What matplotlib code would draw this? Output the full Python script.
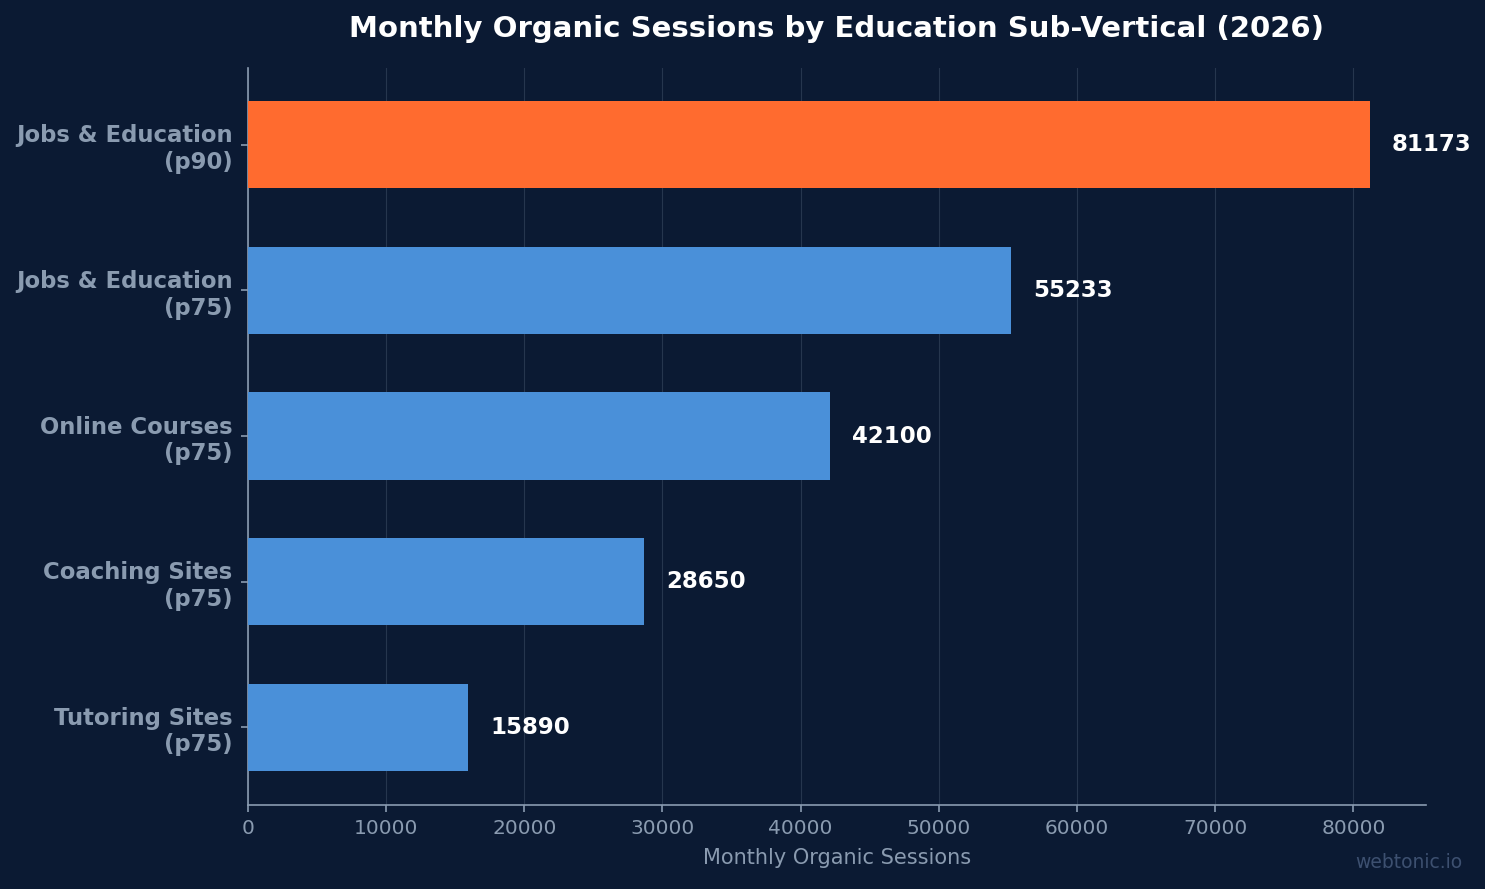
import matplotlib
matplotlib.use("Agg")
import matplotlib.pyplot as plt

# data
categories = ["Jobs & Education\n(p90)", "Jobs & Education\n(p75)", "Online Courses\n(p75)",
              "Coaching Sites\n(p75)", "Tutoring Sites\n(p75)"]
sessions = [81173, 55233, 42100, 28650, 15890]
bar_colors = ["#ff6b2f", "#4a90d9", "#4a90d9", "#4a90d9", "#4a90d9"]

bg = "#0b1a33"
muted = "#8a9bb0"

fig, ax = plt.subplots(figsize=(14.85, 8.89), dpi=100)
fig.patch.set_facecolor(bg)
ax.set_facecolor(bg)
fig.subplots_adjust(left=0.167, right=0.96, top=0.924, bottom=0.095)

ypos = range(len(categories))
ax.barh(ypos, sessions, height=0.6, color=bar_colors, zorder=3)
ax.invert_yaxis()
ax.set_xlim(0, max(sessions) * 1.05)

for y, v in zip(ypos, sessions):
    ax.text(v + max(sessions) * 0.02, y, str(v), va="center", ha="left",
            color="white", fontsize=16.5, fontweight="bold")

ax.set_yticks(list(ypos))
ax.set_yticklabels(categories, fontsize=16.4, fontweight="bold", color=muted)
ax.tick_params(axis="x", colors=muted, labelsize=14.5, length=5, width=1.2, pad=5.5)
ax.tick_params(axis="y", colors=muted, length=5, width=1.2, pad=6)
ax.set_xlabel("Monthly Organic Sessions", color=muted, fontsize=15, labelpad=7)
ax.set_title("Monthly Organic Sessions by Education Sub-Vertical (2026)",
             color="white", fontsize=21, fontweight="bold", pad=22)

ax.grid(axis="x", color="#8a9bb0", alpha=0.22, zorder=0)
for s in ["top", "right"]:
    ax.spines[s].set_visible(False)
for s in ["left", "bottom"]:
    ax.spines[s].set_color(muted)
    ax.spines[s].set_linewidth(1.2)

fig.text(0.985, 0.019, "webtonic.io", color="#3d5070", fontsize=13.5, ha="right", va="bottom")

fig.savefig("out.png", facecolor=bg)
